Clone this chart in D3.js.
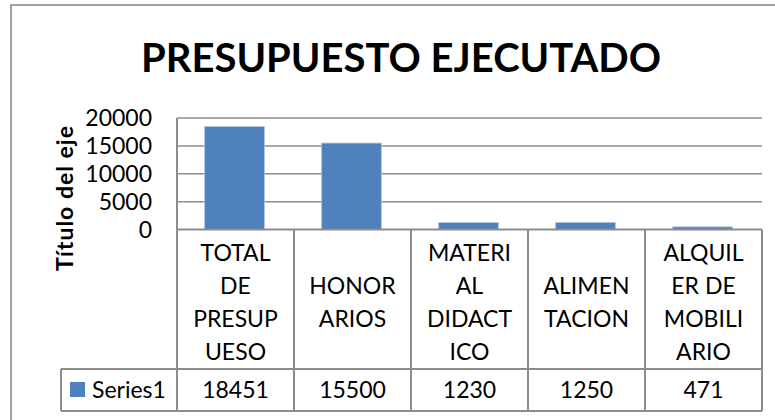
<!DOCTYPE html>
<html>
<head>
<meta charset="utf-8">
<script src="https://cdn.jsdelivr.net/npm/d3@7"></script>
<style>
  body { margin: 0; background: #fff; }
  svg { display: block; }
</style>
</head>
<body>
<svg id="chart"></svg>
<script>
// chart data
const categories = ["TOTAL DE PRESUPUESO", "HONORARIOS", "MATERIAL DIDACTICO", "ALIMENTACION", "ALQUILER DE MOBILIARIO"];
// how the category names wrap in the table cells
const categoryLines = [
  ["TOTAL", "DE", "PRESUP", "UESO"],
  ["HONOR", "ARIOS"],
  ["MATERI", "AL", "DIDACT", "ICO"],
  ["ALIMEN", "TACION"],
  ["ALQUIL", "ER DE", "MOBILI", "ARIO"]
];
const seriesName = "Series1";
const values = [18451, 15500, 1230, 1250, 471];
const yTicks = [0, 5000, 10000, 15000, 20000];
const chartTitle = "PRESUPUESTO EJECUTADO";
const axisTitle = "Título del eje";

const width = 775;
const height = 420;
const font = "Lato, 'Open Sans', sans-serif";
const textSize = 23;
const barColor = "#4f81bd";
const lineColor = "#8c8c8c";

// plot area + data table geometry
const plot = {left: 177, right: 762, top: 118, bottom: 229.5};
const table = {legendLeft: 61, labelBottom: 369, bottom: 411};

const svg = d3.select("#chart")
  .attr("width", width)
  .attr("height", height);

// outer chart border
svg.append("rect")
  .attr("x", 11).attr("y", 5)
  .attr("width", 790).attr("height", 430)
  .attr("fill", "#fff")
  .attr("stroke", "#a0a0a0")
  .attr("stroke-width", 2);

// title
svg.append("text")
  .attr("x", 401)
  .attr("y", 72)
  .attr("text-anchor", "middle")
  .attr("font-family", font)
  .attr("font-weight", "bold")
  .attr("font-size", 40)
  .attr("fill", "#000")
  .text(chartTitle);

const x = d3.scaleBand()
  .domain(categories)
  .range([plot.left, plot.right])
  .paddingInner(0)
  .paddingOuter(0);

const y = d3.scaleLinear()
  .domain([0, 20000])
  .range([plot.bottom, plot.top]);

// gridlines
svg.append("g")
  .selectAll("line")
  .data(yTicks.filter(d => d > 0))
  .enter().append("line")
    .attr("x1", plot.left).attr("x2", plot.right)
    .attr("y1", d => y(d)).attr("y2", d => y(d))
    .attr("stroke", lineColor)
    .attr("stroke-width", 1.5);

// y axis labels
svg.append("g")
  .selectAll("text")
  .data(yTicks)
  .enter().append("text")
    .attr("x", 152)
    .attr("y", d => y(d))
    .attr("dy", "0.35em")
    .attr("text-anchor", "end")
    .attr("font-family", font)
    .attr("font-size", textSize)
    .attr("fill", "#000")
    .text(d => d);

// axis title (rotated)
svg.append("text")
  .attr("transform", "translate(73,198) rotate(-90)")
  .attr("text-anchor", "middle")
  .attr("font-family", font)
  .attr("font-weight", "bold")
  .attr("font-size", 23)
  .attr("letter-spacing", 1)
  .attr("fill", "#000")
  .text(axisTitle);

// bars
const barW = x.bandwidth() * 0.51;
svg.append("g")
  .selectAll("rect")
  .data(values)
  .enter().append("rect")
    .attr("x", (d, i) => x(categories[i]) + (x.bandwidth() - barW) / 2 - 1)
    .attr("y", d => y(d))
    .attr("width", barW)
    .attr("height", d => y(0) - y(d))
    .attr("fill", barColor)
    .attr("stroke", "#a9c2e2")
    .attr("stroke-width", 0.8);

// data table lines
const tg = svg.append("g")
  .attr("stroke", lineColor)
  .attr("stroke-width", 2)
  .attr("fill", "none");

// horizontal lines
tg.append("line")
  .attr("x1", plot.left).attr("x2", plot.right)
  .attr("y1", plot.bottom).attr("y2", plot.bottom);
[table.labelBottom, table.bottom].forEach(yy => {
  tg.append("line")
    .attr("x1", table.legendLeft).attr("x2", plot.right)
    .attr("y1", yy).attr("y2", yy);
});

// y axis line
tg.append("line")
  .attr("x1", plot.left).attr("x2", plot.left)
  .attr("y1", plot.top).attr("y2", table.bottom);

// category separators
tg.selectAll(".sep")
  .data(categories)
  .enter().append("line")
    .attr("class", "sep")
    .attr("x1", d => x(d) + x.bandwidth())
    .attr("x2", d => x(d) + x.bandwidth())
    .attr("y1", plot.bottom).attr("y2", table.bottom);

// legend cell left edge
tg.append("line")
  .attr("x1", table.legendLeft).attr("x2", table.legendLeft)
  .attr("y1", table.labelBottom).attr("y2", table.bottom);

// category labels inside the table
const lineH = 33;
const labelMid = (plot.bottom + table.labelBottom) / 2 + 3;
const labels = svg.append("g")
  .selectAll("text")
  .data(categories)
  .enter().append("text")
    .attr("x", d => x(d) + x.bandwidth() / 2)
    .attr("text-anchor", "middle")
    .attr("font-family", font)
    .attr("font-size", textSize)
    .attr("fill", "#000");

labels.each(function(d, i) {
  const lines = categoryLines[i];
  const y0 = labelMid - (lines.length - 1) * lineH / 2;
  d3.select(this).selectAll("tspan")
    .data(lines)
    .enter().append("tspan")
      .attr("x", x(d) + x.bandwidth() / 2)
      .attr("y", (t, k) => y0 + k * lineH)
      .attr("dy", "0.35em")
      .text(t => t);
});

// value row
const rowMid = (table.labelBottom + table.bottom) / 2;
svg.append("g")
  .selectAll("text")
  .data(values)
  .enter().append("text")
    .attr("x", (d, i) => x(categories[i]) + x.bandwidth() / 2)
    .attr("y", rowMid)
    .attr("dy", "0.35em")
    .attr("text-anchor", "middle")
    .attr("font-family", font)
    .attr("font-size", textSize)
    .attr("fill", "#000")
    .text(d => d);

// legend key in the table
svg.append("rect")
  .attr("x", 70).attr("y", rowMid - 8)
  .attr("width", 15).attr("height", 15)
  .attr("fill", barColor);

svg.append("text")
  .attr("x", 92)
  .attr("y", rowMid)
  .attr("dy", "0.35em")
  .attr("font-family", font)
  .attr("font-size", textSize)
  .attr("fill", "#000")
  .text(seriesName);
</script>
</body>
</html>
